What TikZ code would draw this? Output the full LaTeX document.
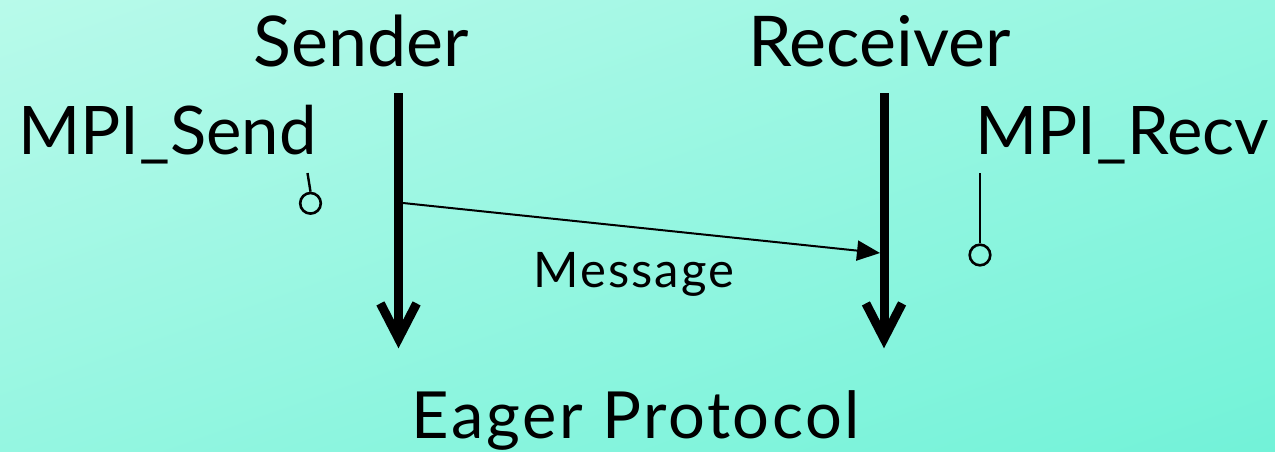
\documentclass[tikz,border=0pt]{standalone}
\usepackage{fontspec}
\setmainfont{Lato}
\usetikzlibrary{arrows.meta,shadings}
\definecolor{bgtl}{RGB}{184,250,234}
\definecolor{bgmid}{RGB}{149,246,225}
\definecolor{bgbr}{RGB}{114,242,216}
\begin{document}
\begin{tikzpicture}[x=1pt,y=-1pt,
  lbl/.style={inner sep=0pt, anchor=base, text=black},
  big/.style={font=\fontsize{70}{80}\selectfont},
  api/.style={font=\fontsize{67}{78}\selectfont, anchor=base west},
  small/.style={font=\fontsize{49}{56}\selectfont\addfontfeatures{LetterSpace=4}},
  title/.style={font=\fontsize{65}{76}\selectfont\addfontfeatures{LetterSpace=4}},
  lifeline/.style={line width=9pt, line cap=butt},
  barb/.style={line width=9pt, line cap=butt, line join=miter, miter limit=10},
  msgarrow/.style={line width=2pt, -{Triangle[length=23pt,width=20pt]}},
  lolli/.style={circle, draw, line width=2.6pt, minimum size=20.6pt, inner sep=0pt},
  stick/.style={line width=2.4pt}]
% background
\begin{scope}[yscale=-1]
  \shade[upper left=bgtl, upper right=bgmid, lower left=bgmid, lower right=bgbr]
    (0,0) rectangle (1275,-451);
\end{scope}
\useasboundingbox (0,0) rectangle (1275,451);

% labels
\node[lbl, big] (sender) at (361,66) {Sender};
\node[lbl, big] (receiver) at (879.5,66) {Receiver};
\node[lbl, api] (mpisend) at (18,154) {MPI\_Send};
\node[lbl, api] (mpirecv) at (975,154) {MPI\_Recv};
\node[lbl, small] (message) at (634,287) {Message};
\node[lbl, title] (eager) at (636,438) {Eager Protocol};

% time lines, each ending in a thick open chevron
\coordinate (s-top) at (398.5,93);
\coordinate (s-bot) at (398.5,338.5);
\coordinate (r-top) at (884,93);
\coordinate (r-bot) at (884,338.5);
\draw[lifeline] (s-top) -- (s-bot);
\draw[barb] (s-bot) ++(-18.1,-35.1) -- (s-bot) -- ++(18.1,-35.1);
\draw[lifeline] (r-top) -- (r-bot);
\draw[barb] (r-bot) ++(-18.1,-35.1) -- (r-bot) -- ++(18.1,-35.1);

% message
\coordinate (msg-from) at (403,203);
\coordinate (msg-to) at (880,253);
\draw[msgarrow] (msg-from) -- (msg-to);

% call markers
\node[lolli] (sdot) at (310.5,203.3) {};
\coordinate (sstick) at (307.5,173);
\draw[stick] (sstick) -- (sdot.north);
\node[lolli] (rdot) at (980,255) {};
\coordinate (rstick) at (980,173);
\draw[stick] (rstick) -- (rdot.north);
\end{tikzpicture}
\end{document}
